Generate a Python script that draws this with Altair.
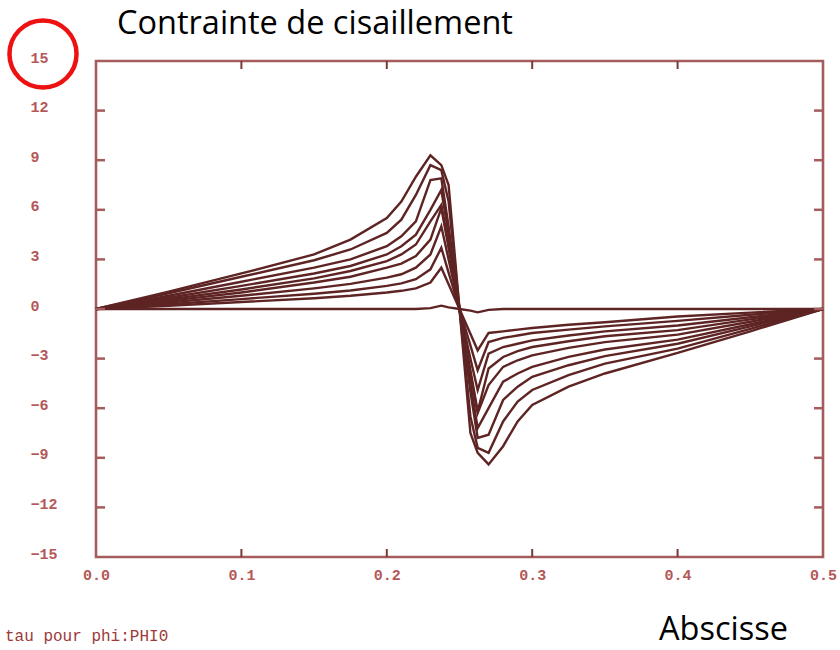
import altair as alt
import pandas as pd

x_grid = [0.0, 0.05, 0.1, 0.15, 0.175, 0.2, 0.21, 0.22, 0.23, 0.2375, 0.2425, 0.25,
          0.2575, 0.2625, 0.27, 0.28, 0.29, 0.3, 0.325, 0.35, 0.4, 0.45, 0.5]

curve_0 = [0, 0, 0, 0, 0, 0, 0, 0, 0.05, 0.2, 0.1, 0, -0.1, -0.2, -0.05, 0, 0, 0, 0, 0, 0, 0, 0]
curve_1 = [0, 0.2, 0.42, 0.65, 0.8, 1.0, 1.1, 1.25, 1.6, 2.5, 1.5, 0, -1.5, -2.5, -1.45, -1.35, -1.25, -1.15, -0.95, -0.8, -0.45, -0.22, 0]
curve_2 = [0, 0.29, 0.6, 0.92, 1.12, 1.4, 1.55, 1.8, 2.4, 3.7, 2.2, 0, -2.2, -3.7, -2.0, -1.75, -1.6, -1.45, -1.25, -1.05, -0.72, -0.35, 0]
curve_3 = [0, 0.39, 0.8, 1.25, 1.52, 1.9, 2.1, 2.5, 3.3, 5.0, 3.0, 0, -3.0, -4.9, -2.7, -2.3, -2.1, -1.9, -1.6, -1.35, -1.0, -0.5, 0]
curve_4 = [0, 0.49, 1.0, 1.6, 1.95, 2.5, 2.75, 3.2, 4.2, 6.1, 3.7, 0, -3.7, -6.2, -3.6, -2.9, -2.55, -2.3, -1.95, -1.65, -1.28, -0.63, 0]
curve_5 = [0, 0.58, 1.18, 1.85, 2.3, 2.9, 3.3, 3.9, 5.3, 6.3, 3.9, 0, -3.9, -6.3, -4.6, -3.5, -3.1, -2.8, -2.35, -2.0, -1.55, -0.77, 0]
curve_6 = [0, 0.68, 1.4, 2.15, 2.6, 3.3, 3.8, 4.5, 6.0, 7.2, 4.5, 0, -4.5, -7.2, -6.0, -4.4, -3.9, -3.5, -2.9, -2.45, -1.85, -0.92, 0]
curve_7 = [0, 0.8, 1.65, 2.5, 3.0, 3.8, 4.4, 5.3, 7.8, 7.9, 5.0, 0, -5.0, -7.8, -7.6, -5.5, -4.7, -4.1, -3.4, -2.85, -2.1, -1.05, 0]
curve_8 = [0, 0.95, 1.95, 2.95, 3.6, 4.6, 5.4, 6.9, 8.7, 8.4, 6.5, 0, -6.5, -8.4, -8.7, -6.8, -5.6, -4.9, -4.0, -3.3, -2.4, -1.2, 0]
curve_9 = [0, 1.05, 2.15, 3.3, 4.2, 5.5, 6.5, 8.0, 9.3, 8.7, 7.5, 0, -7.5, -8.7, -9.4, -8.3, -6.8, -5.8, -4.7, -3.9, -2.65, -1.35, 0]

curves = [curve_0, curve_1, curve_2, curve_3, curve_4, curve_5, curve_6, curve_7, curve_8, curve_9]

x_tick_values = [0.1, 0.2, 0.3, 0.4]
y_tick_values = [-12, -9, -6, -3, 0, 3, 6, 9, 12]
x_label_values = [0.0, 0.1, 0.2, 0.3, 0.4, 0.5]
y_label_values = [-15, -12, -9, -6, -3, 0, 3, 6, 9, 12, 15]

title_text = "Contrainte de cisaillement"
xlabel_text = "Abscisse"
caption_text = "tau pour phi:PHI0"

rows = []
for ci, c in enumerate(curves):
    for xv, yv in zip(x_grid, c):
        rows.append({"curve": ci, "x": xv, "tau": yv})
df = pd.DataFrame(rows)

W, H = 727, 496
LINE = "#5e2424"
FRAME = "#a45c5c"
LAB = "#b45858"

xscale = alt.Scale(domain=[0, 0.5], nice=False, zero=False)
yscale = alt.Scale(domain=[-15, 15], nice=False)

lines = alt.Chart(df).mark_line(color=LINE, strokeWidth=2.4).encode(
    x=alt.X("x:Q", scale=xscale,
            axis=alt.Axis(values=x_label_values, format=".1f", title=None, ticks=False,
                          domain=False, grid=False, labelPadding=10, labelFlush=False,
                          labelFont="Liberation Mono", labelFontSize=15, labelFontWeight="bold",
                          labelColor=LAB)),
    y=alt.Y("tau:Q", scale=yscale,
            axis=alt.Axis(values=y_label_values, title=None, ticks=False, domain=False,
                          grid=False, labelPadding=66, labelAlign="left", labelOffset=-4,
                          labelFont="Liberation Mono", labelFontSize=15, labelFontWeight="bold",
                          labelColor=LAB)),
    detail="curve:N",
    order="x:Q",
)

xt = pd.DataFrame({"v": x_tick_values})
yt = pd.DataFrame({"v": y_tick_values})

xticks_bottom = alt.Chart(xt).mark_rule(color="#7a3a3a", strokeWidth=2).encode(
    x=alt.X("v:Q", scale=xscale), y=alt.value(H), y2=alt.value(H - 8))
xticks_top = alt.Chart(xt).mark_rule(color="#7a3a3a", strokeWidth=2).encode(
    x=alt.X("v:Q", scale=xscale), y=alt.value(0), y2=alt.value(8))
yticks_left = alt.Chart(yt).mark_rule(color=FRAME, strokeWidth=2.5).encode(
    y=alt.Y("v:Q", scale=yscale), x=alt.value(0), x2=alt.value(9))
yticks_right = alt.Chart(yt).mark_rule(color=FRAME, strokeWidth=2.5).encode(
    y=alt.Y("v:Q", scale=yscale), x=alt.value(W), x2=alt.value(W - 9))

frame = alt.Chart(pd.DataFrame({"t": [1]})).mark_rect(
    fill=None, fillOpacity=0, stroke=FRAME, strokeWidth=2.6
).encode(x=alt.value(0), x2=alt.value(W), y=alt.value(0), y2=alt.value(H))

title = alt.Chart(pd.DataFrame({"t": [title_text]})).mark_text(
    align="left", baseline="middle", font="Open Sans", fontSize=32.5, color="black"
).encode(text="t:N", x=alt.value(21), y=alt.value(-37))

xlabel = alt.Chart(pd.DataFrame({"t": [xlabel_text]})).mark_text(
    align="left", baseline="middle", font="Open Sans", fontSize=32.5, color="black"
).encode(text="t:N", x=alt.value(563), y=alt.value(569))

caption = alt.Chart(pd.DataFrame({"t": [caption_text]})).mark_text(
    align="left", baseline="middle", font="Liberation Mono", fontSize=16, color="#9c3a3a"
).encode(text="t:N", x=alt.value(-91), y=alt.value(575))

circle = alt.Chart(pd.DataFrame({"t": [1]})).mark_point(
    shape="circle", filled=False, size=4500, stroke="#ee1111", strokeWidth=4.5, opacity=1
).encode(x=alt.value(-53), y=alt.value(-7))

chart = alt.layer(
    frame, lines, xticks_bottom, xticks_top, yticks_left, yticks_right, title, xlabel, caption, circle
).properties(
    width=W, height=H,
    autosize=alt.AutoSizeParams(type="none"),
    padding={"left": 96, "top": 61, "right": 17, "bottom": 93},
).configure_view(stroke=None).configure(background="white")

chart.save("out.html", embed_options={"renderer": "svg", "actions": False})
